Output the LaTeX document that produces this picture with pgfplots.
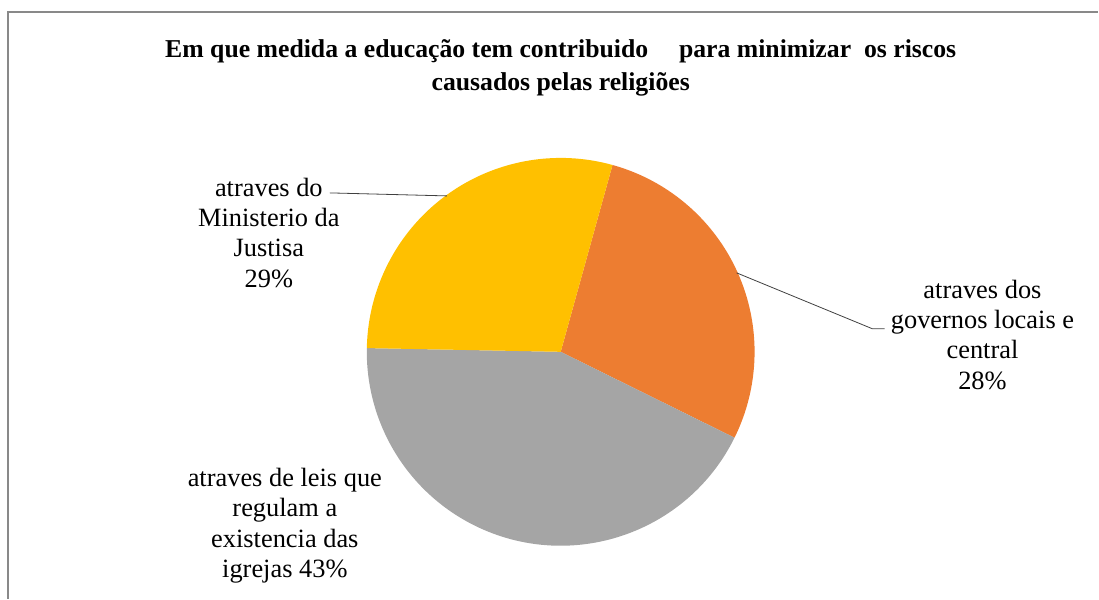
\documentclass[border=0pt]{standalone}
\usepackage{pgfplots}
\usepackage{pgfplotstable}
\pgfplotsset{compat=1.18}
\usepackage{fontspec}
\setmainfont{Liberation Serif}
\definecolor{pieOrange}{HTML}{ED7D31}
\definecolor{pieGray}{HTML}{A5A5A5}
\definecolor{pieYellow}{HTML}{FFC000}
\definecolor{frameGray}{HTML}{898989}

\pgfplotstableread{
label value
governos 28
leis 43
ministerio 29
}\piedata

\pgfplotstablegetelem{0}{value}\of\piedata \let\va\pgfplotsretval
\pgfplotstablegetelem{1}{value}\of\piedata \let\vb\pgfplotsretval
\pgfplotstablegetelem{2}{value}\of\piedata \let\vc\pgfplotsretval
\pgfmathsetmacro\aA{74.5}
\pgfmathsetmacro\aB{\aA-3.6*\va}
\pgfmathsetmacro\aC{\aB-3.6*\vb}
\pgfmathsetmacro\aD{\aC-3.6*\vc}
\def\R{145.5pt}

\begin{document}
\begin{tikzpicture}
\begin{axis}[
  scale only axis, width=824.25pt, height=449.25pt,
  xmin=0, xmax=1099, ymin=0, ymax=599, y dir=reverse,
  hide axis, clip=false]
\path (axis cs:0,0) rectangle (axis cs:1099,599);
% frame
\draw[frameGray, line width=0.9pt] (axis cs:8,599) -- (axis cs:8,12) -- (axis cs:1099,12);
% pie slices
\fill[pieOrange] (axis cs:561,352) -- ++(\aA:\R) arc[start angle=\aA, end angle=\aB, radius=\R] -- cycle;
\fill[pieGray] (axis cs:561,352) -- ++(\aB:\R) arc[start angle=\aB, end angle=\aC, radius=\R] -- cycle;
\fill[pieYellow] (axis cs:561,352) -- ++(\aC:\R) arc[start angle=\aC, end angle=\aD, radius=\R] -- cycle;
% leader lines
\draw[black!75, line width=0.6pt] (axis cs:330,193) -- (axis cs:447,196);
\draw[black!75, line width=0.6pt] (axis cs:737,273) -- (axis cs:873,329) -- (axis cs:885,329);
% title
\node[anchor=base, inner sep=0pt, font=\fontsize{19.3}{24}\selectfont\bfseries] at (axis cs:561,58)
  {Em que medida a educação tem contribuido\hspace{1.2em}para minimizar\ \ os riscos};
\node[anchor=base, inner sep=0pt, font=\fontsize{19.3}{24}\selectfont\bfseries] at (axis cs:561,91)
  {causados pelas religiões};
% labels
\node[align=center, inner sep=0pt, font=\fontsize{19.8}{22.7}\selectfont] at (axis cs:269,233)
  {atraves do\\Ministerio da\\Justisa\\29\%};
\node[align=center, inner sep=0pt, font=\fontsize{19.8}{22.7}\selectfont] at (axis cs:983,335)
  {atraves dos\\governos locais e\\central\\28\%};
\node[align=center, inner sep=0pt, font=\fontsize{19.8}{22.7}\selectfont] at (axis cs:285,526)
  {atraves de leis que\\regulam a\\existencia das\\igrejas 43\%};
\end{axis}
\end{tikzpicture}
\end{document}
